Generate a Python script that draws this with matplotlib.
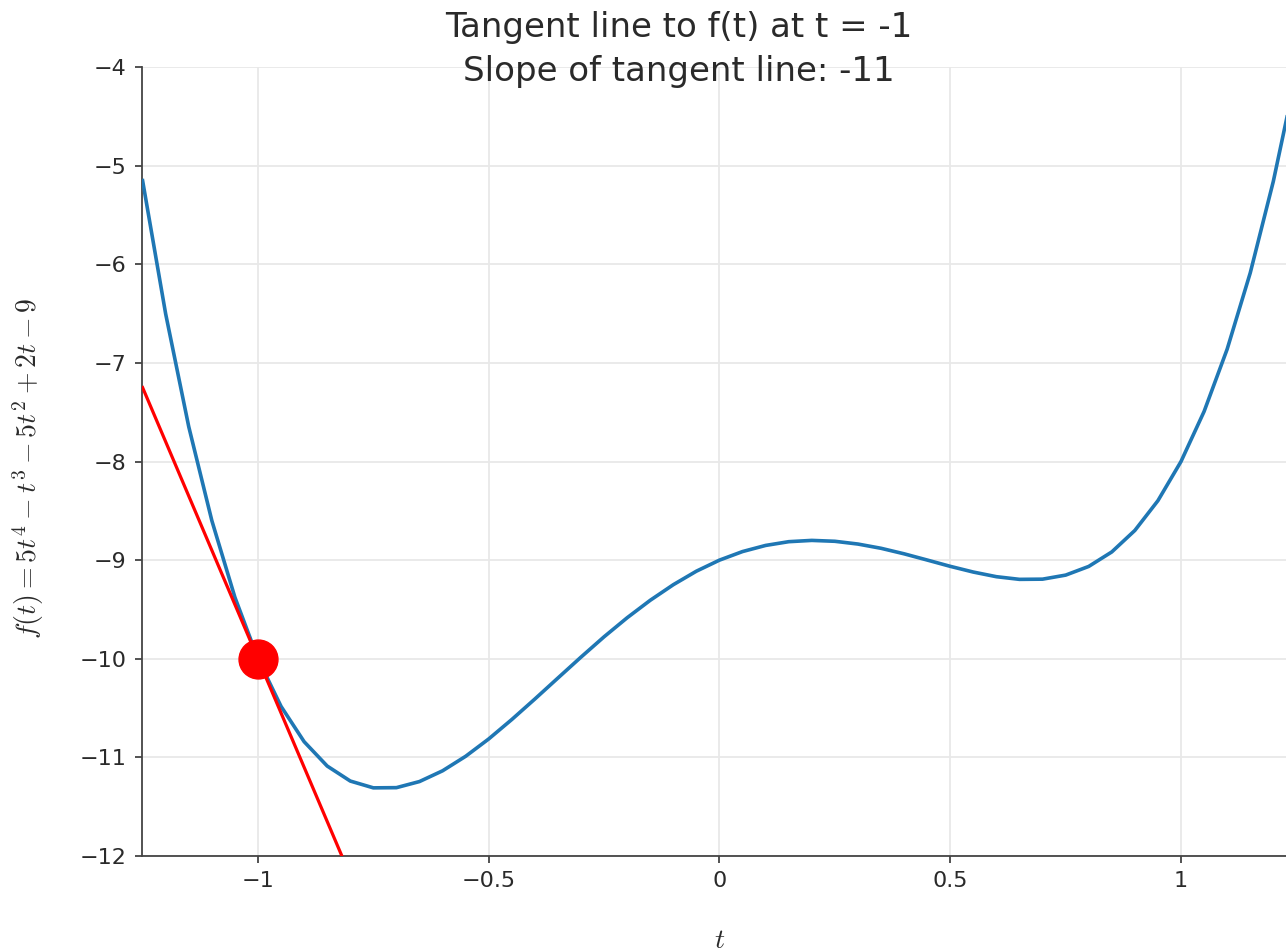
import numpy as np
import matplotlib
matplotlib.use("Agg")
import matplotlib.pyplot as plt

plt.rcParams["mathtext.fontset"] = "cm"

# sampled curve f(t) = 5t^4 - t^3 - 5t^2 + 2t - 9
t_vals = [-1.25, -1.20, -1.15, -1.10, -1.05, -1.00, -0.95, -0.90, -0.85, -0.80,
          -0.75, -0.70, -0.65, -0.60, -0.55, -0.50, -0.45, -0.40, -0.35, -0.30,
          -0.25, -0.20, -0.15, -0.10, -0.05, 0.00, 0.05, 0.10, 0.15, 0.20,
          0.25, 0.30, 0.35, 0.40, 0.45, 0.50, 0.55, 0.60, 0.65, 0.70,
          0.75, 0.80, 0.85, 0.90, 0.95, 1.00, 1.05, 1.10, 1.15, 1.20, 1.25]
f_vals = [-5.152, -6.504, -7.647, -8.599, -9.377, -10.000, -10.483, -10.841, -11.088, -11.240,
          -11.309, -11.307, -11.245, -11.136, -10.989, -10.813, -10.616, -10.408, -10.195, -9.983,
          -9.777, -9.584, -9.407, -9.249, -9.112, -9.000, -8.913, -8.851, -8.813, -8.800,
          -8.809, -8.837, -8.880, -8.936, -8.999, -9.063, -9.121, -9.168, -9.195, -9.193,
          -9.152, -9.064, -8.917, -8.699, -8.397, -8.000, -7.493, -6.861, -6.088, -5.160, -4.059]

# tangent at t = -1, slope -11
tan_t = [-1.25, -0.75]
tan_f = [-7.25, -12.75]
point_t = [-1.0]
point_f = [-10.0]

xticks = [-1, -0.5, 0, 0.5, 1]
xticklabels = ["\u22121", "\u22120.5", "0", "0.5", "1"]
yticks = [-12, -11, -10, -9, -8, -7, -6, -5, -4]

W, H = 1286, 952
fig = plt.figure(figsize=(W / 100, H / 100), dpi=100)
ax = fig.add_axes([142 / W, 1 - 856 / H, 1 - 142 / W, (856 - 67) / H])

ax.plot(t_vals, f_vals, color="#1f77b4", lw=2.6, zorder=3)
ax.plot(tan_t, tan_f, color="red", lw=2.3, zorder=4)
ax.plot(point_t, point_f, "o", color="red", ms=28, zorder=5, clip_on=False)

ax.set_xlim(-1.2513, 1.2275)
ax.set_ylim(-12, -4)
ax.set_xticks(xticks)
ax.set_xticklabels(xticklabels)
ax.set_yticks(yticks)
ax.set_yticklabels(["\u2212%d" % abs(v) for v in yticks])

ax.grid(True, color="#e8e8e8", lw=1.3)
ax.set_axisbelow(True)
for s in ["top", "right"]:
    ax.spines[s].set_visible(False)
for s in ["left", "bottom"]:
    ax.spines[s].set_color("#444444")
    ax.spines[s].set_linewidth(1.3)
ax.tick_params(axis="both", direction="out", length=5, width=1.3, color="#444444",
               labelsize=16, labelcolor="#2a2a2a", pad=6)

fig.text(679 / W, 1 - 28 / H, "Tangent line to f(t) at t = -1", ha="center", va="center",
         fontsize=24.5, color="#2a2a2a")
fig.text(679 / W, 1 - 71 / H, "Slope of tangent line: -11", ha="center", va="center",
         fontsize=24.5, color="#2a2a2a")
fig.text(28 / W, 1 - 468 / H, r"$f(t) = 5t^4 - t^3 - 5t^2 + 2t - 9$", rotation=90,
         ha="center", va="center", fontsize=20, color="#2a2a2a")
fig.text(720 / W, 1 - 940 / H, r"$t$", ha="center", va="center", fontsize=20, color="#2a2a2a")

fig.savefig("out.png", dpi=100)
